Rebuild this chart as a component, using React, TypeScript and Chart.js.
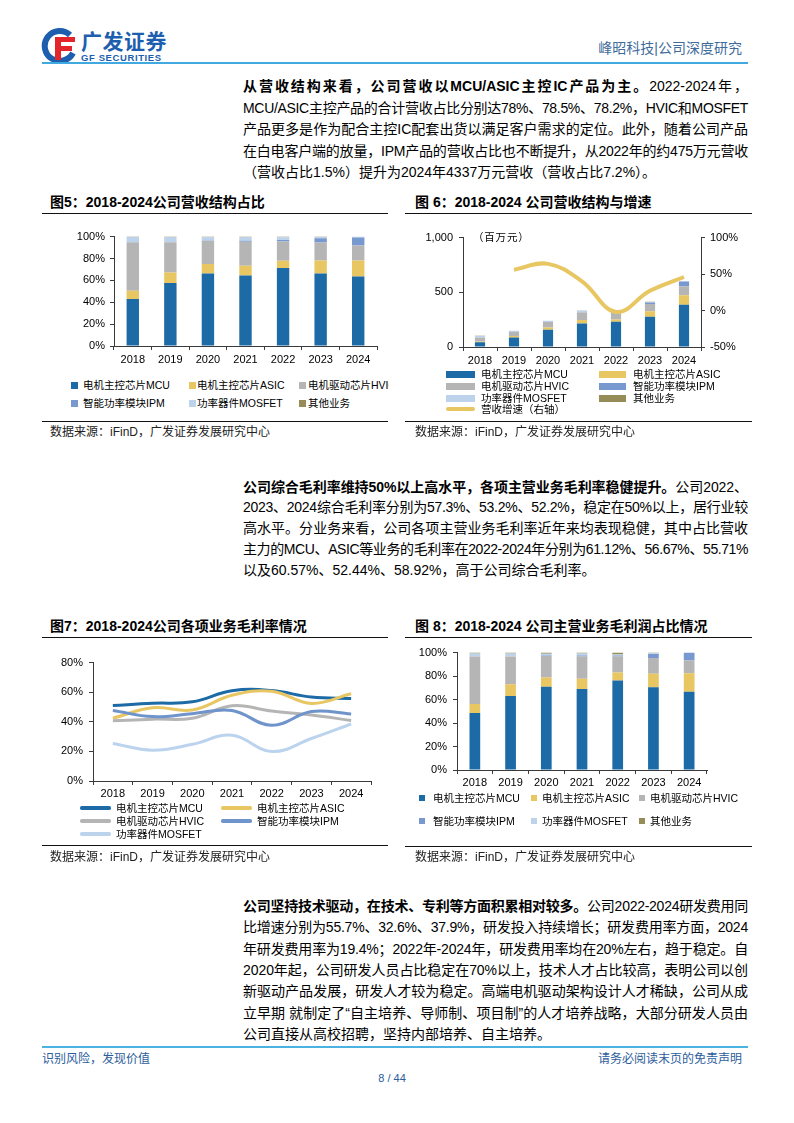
import React, { useEffect, useLayoutEffect, useRef, useState } from 'react';
import { Chart, registerables } from 'chart.js';
Chart.register(...registerables);

// ---------- data ----------
const years = ['2018', '2019', '2020', '2021', '2022', '2023', '2024'];
const seriesNames = ['电机主控芯片MCU', '电机主控芯片ASIC', '电机驱动芯片HVIC', '智能功率模块IPM', '功率器件MOSFET', '其他业务'];
const seriesColors = ['#1c6aa6', '#e8c662', '#b5b5b5', '#7899cf', '#bdd3ec', '#968c58'];

// Fig 5: revenue structure share (%)
const revShareMCU = [43, 57.5, 66.2, 64.4, 71.3, 66.2, 63.5];
const revShareASIC = [7.6, 9.6, 8.7, 9, 6.7, 11.9, 14.7];
const revShareHVIC = [44.3, 27.8, 21.2, 21.8, 17.5, 16.5, 13.7];
const revShareIPM = [0, 0, 0.3, 0.9, 1.5, 3.9, 7.2];
const revShareMOSFET = [4.8, 4.8, 3, 3.6, 2.3, 1.2, 0.9];
const revShareOther = [0.3, 0.3, 0.6, 0.3, 0.7, 0.3, 0];

// Fig 6: revenue (million yuan) and growth (%)
const revMCU = [44, 86, 157, 214, 231, 276, 386];
const revASIC = [6, 15, 21, 32, 21, 50, 86];
const revHVIC = [36, 35, 50, 69, 68, 66, 83];
const revIPM = [0, 0, 0, 3, 5, 14, 43];
const revMOSFET = [15, 12, 12, 14, 8, 6, 3];
const revOther = [1, 1, 1, 1, 2, 1, 1];
const revGrowth = [null, 56, 64, 40, -2, 27, 46];
const revTicksLeft = [0, 500, 1000];
const revTicksRight = [-50, 0, 50, 100];

// Fig 7: gross margin by business (%)
const gmMCU = [51, 52.5, 53.5, 61, 61.1, 56.7, 55.7];
const gmASIC = [42.4, 49.5, 48, 57.9, 60.6, 52.4, 58.9];
const gmHVIC = [40.7, 41.8, 42.4, 50.8, 47.3, 44.6, 40.9];
const gmIPM = [47.7, 43.5, 45.5, 47.7, 37.6, 46.9, 45.3];
const gmMOSFET = [25.4, 20.8, 24.8, 30.9, 19.9, 28.7, 38.5];
const gmColors = ['#1c6aa6', '#e8c662', '#b5b5b5', '#6f93cb', '#bcd3ee'];

// Fig 8: gross profit share (%)
const gpMCU = [48.5, 63, 71, 69.1, 76.3, 70.5, 66.6];
const gpASIC = [7.8, 10, 7.8, 8.6, 6.7, 11.4, 15.9];
const gpHVIC = [40.4, 23.7, 18.4, 19, 13.7, 13.4, 10.8];
const gpIPM = [0, 0, 0.3, 0.8, 0.8, 3.6, 6.7];
const gpMOSFET = [2.5, 2.5, 1.5, 1.7, 0.8, 0.5, 0];
const gpOther = [0.8, 0.8, 1, 0.8, 1.7, 0.6, 0];

// ---------- text ----------
type Part = [string, number];
const P1: Part[][] = [
  [['从营收结构来看，公司营收以MCU/ASIC主控IC产品为主。', 1], ['2022-2024年，', 0]],
  [['MCU/ASIC主控产品的合计营收占比分别达78%、78.5%、78.2%，HVIC和MOSFET', 0]],
  [['产品更多是作为配合主控IC配套出货以满足客户需求的定位。此外，随着公司产品', 0]],
  [['在白电客户端的放量，IPM产品的营收占比也不断提升，从2022年的约475万元营收', 0]],
  [['（营收占比1.5%）提升为2024年4337万元营收（营收占比7.2%）。', 0]],
];
const P2: Part[][] = [
  [['公司综合毛利率维持50%以上高水平，各项主营业务毛利率稳健提升。', 1], ['公司2022、', 0]],
  [['2023、2024综合毛利率分别为57.3%、53.2%、52.2%，稳定在50%以上，居行业较', 0]],
  [['高水平。分业务来看，公司各项主营业务毛利率近年来均表现稳健，其中占比营收', 0]],
  [['主力的MCU、ASIC等业务的毛利率在2022-2024年分别为61.12%、56.67%、55.71%', 0]],
  [['以及60.57%、52.44%、58.92%，高于公司综合毛利率。', 0]],
];
const P3: Part[][] = [
  [['公司坚持技术驱动，在技术、专利等方面积累相对较多。', 1], ['公司2022-2024研发费用同', 0]],
  [['比增速分别为55.7%、32.6%、37.9%，研发投入持续增长；研发费用率方面，2024', 0]],
  [['年研发费用率为19.4%；2022年-2024年，研发费用率均在20%左右，趋于稳定。自', 0]],
  [['2020年起，公司研发人员占比稳定在70%以上，技术人才占比较高，表明公司以创', 0]],
  [['新驱动产品发展，研发人才较为稳定。高端电机驱动架构设计人才稀缺，公司从成', 0]],
  [['立早期 就制定了“自主培养、导师制、项目制”的人才培养战略，大部分研发人员由', 0]],
  [['公司直接从高校招聘，坚持内部培养、自主培养。', 0]],
];

// ---------- helpers ----------
const LATIN = "'Liberation Sans', Arial, sans-serif";
const FONT = "'Liberation Sans', 'Noto Sans CJK SC', sans-serif";
const AXIS = '#3a3a3a';
const tickFont = { family: LATIN, size: 11 };

function xCat(stacked: boolean, padding = 2) {
  return {
    type: 'category',
    stacked,
    offset: true,
    grid: { display: true, drawOnChartArea: false, drawTicks: true, tickLength: 4, color: AXIS, offset: true },
    border: { display: true, color: AXIS },
    ticks: { font: tickFont, color: '#000', padding, maxRotation: 0, autoSkip: false },
    afterFit: (s: any) => { s.height = 24; },
  };
}

function yLin(o: { min: number; max: number; step: number; fmt: (v: number) => string; width: number; pad: number; position?: string; stacked?: boolean }) {
  return {
    type: 'linear',
    position: o.position || 'left',
    stacked: !!o.stacked,
    min: o.min,
    max: o.max,
    ticks: { stepSize: o.step, callback: (v: any) => o.fmt(Number(v)), font: tickFont, color: '#000', padding: o.pad },
    grid: { display: true, drawOnChartArea: false, drawTicks: true, tickLength: 4, color: AXIS },
    border: { display: true, color: AXIS },
    afterFit: (s: any) => { s.width = o.width; },
  };
}

const pct = (v: number) => `${v}%`;

function barSets(arrs: number[][], barPct: number) {
  return arrs.map((d, i) => ({
    type: 'bar',
    label: seriesNames[i],
    data: d,
    backgroundColor: seriesColors[i],
    borderWidth: 0,
    stack: 's',
    barPercentage: barPct,
    categoryPercentage: 1,
    order: 1,
  }));
}

function ChartBox(props: { left: number; top: number; width: number; height: number; config: () => any }) {
  const ref = useRef<HTMLCanvasElement>(null);
  useEffect(() => {
    const chart = new Chart(ref.current as HTMLCanvasElement, props.config());
    return () => chart.destroy();
  }, []);
  return (
    <div style={{ position: 'absolute', left: props.left, top: props.top, width: props.width, height: props.height }}>
      <canvas ref={ref} width={props.width} height={props.height} style={{ width: props.width, height: props.height, display: 'block' }} />
    </div>
  );
}

function TextLine(props: { parts: Part[]; last: boolean; left: number; top: number; width: number; lh: number; size: number }) {
  const mref = useRef<HTMLSpanElement>(null);
  const [ls, setLs] = useState(0);
  useLayoutEffect(() => {
    const el = mref.current;
    if (!el) return;
    const w = el.getBoundingClientRect().width;
    const n = props.parts.reduce((a, p) => a + Array.from(p[0]).length, 0);
    if (w > props.width) setLs((props.width - w) / n - 0.02);
  }, []);
  const content = props.parts.map((p, i) => (
    <span key={i} style={{ fontWeight: p[1] ? 700 : 400 }}>{p[0]}</span>
  ));
  return (
    <>
      <span ref={mref} style={{ position: 'absolute', visibility: 'hidden', whiteSpace: 'nowrap', left: 0, top: 0, fontSize: props.size }}>{content}</span>
      <div
        style={{
          position: 'absolute', left: props.left, top: props.top, width: props.width, height: props.lh,
          lineHeight: props.lh + 'px', fontSize: props.size, textAlign: 'justify',
          textAlignLast: props.last ? 'left' : 'justify', whiteSpace: ls < 0 ? 'nowrap' : 'normal',
          letterSpacing: ls ? ls + 'px' : undefined, color: '#000',
        }}
      >{content}</div>
    </>
  );
}

function Para(props: { lines: Part[][]; y0: number; lh: number }) {
  return (
    <>
      {props.lines.map((ln, i) => (
        <TextLine key={i} parts={ln} last={i === props.lines.length - 1} left={243} top={props.y0 + i * props.lh - props.lh / 2} width={505} lh={props.lh} size={14} />
      ))}
    </>
  );
}

function Abs(props: { x: number; y: number; size: number; children: any; bold?: boolean; color?: string; ls?: number; align?: string; w?: number }) {
  const lh = props.size + 4;
  return (
    <div style={{
      position: 'absolute', left: props.x, top: props.y - lh / 2, lineHeight: lh + 'px', fontSize: props.size,
      fontWeight: props.bold ? 700 : 400, color: props.color || '#000', whiteSpace: 'nowrap',
      letterSpacing: props.ls ? props.ls + 'px' : undefined, width: props.w, textAlign: (props.align as any) || 'left',
    }}>{props.children}</div>
  );
}

function Rule(props: { x1: number; x2: number; y: number; color?: string; h?: number }) {
  return <div style={{ position: 'absolute', left: props.x1, top: props.y - (props.h || 1) / 2, width: props.x2 - props.x1, height: props.h || 1, background: props.color || '#111' }} />;
}

type Leg = { x: number; y: number; color: string; label: string; kind: 'sq' | 'rect' | 'line'; w?: number; h?: number; tx: number };

function Legend(props: { items: Leg[]; clipRight?: number }) {
  return (
    <>
      {props.items.map((it, i) => {
        const w = it.w || 7;
        const h = it.h || 7;
        return (
          <React.Fragment key={i}>
            <div style={{ position: 'absolute', left: it.x, top: it.y - h / 2, width: w, height: h, background: it.color, borderRadius: it.kind === 'line' ? h / 2 : 0 }} />
            <div style={{ position: 'absolute', left: it.tx, top: it.y - 7, lineHeight: '14px', fontSize: 10.5, whiteSpace: 'nowrap', color: '#000', width: props.clipRight ? props.clipRight - it.tx : undefined, overflow: 'hidden' }}>{it.label}</div>
          </React.Fragment>
        );
      })}
    </>
  );
}

// ---------- charts ----------
const fig5Config = () => ({
  type: 'bar',
  data: { labels: years, datasets: barSets([revShareMCU, revShareASIC, revShareHVIC, revShareIPM, revShareMOSFET, revShareOther], 0.33) },
  options: {
    responsive: false, animation: false, devicePixelRatio: 1,
    layout: { padding: { top: 10, right: 13, left: 0, bottom: 0 } },
    plugins: { legend: { display: false }, tooltip: { enabled: false } },
    scales: {
      x: xCat(true, 3),
      y: yLin({ min: 0, max: 100, step: 20, fmt: pct, width: 74, pad: 5, stacked: true }),
    },
  },
});

const fig6Config = () => ({
  type: 'bar',
  data: {
    labels: years,
    datasets: [
      {
        type: 'line', label: '营收增速（右轴）', data: revGrowth, yAxisID: 'y1', borderColor: '#e8c662', backgroundColor: '#e8c662',
        borderWidth: 4, pointRadius: 0, tension: 0.4, order: 0, spanGaps: false,
      },
      ...barSets([revMCU, revASIC, revHVIC, revIPM, revMOSFET, revOther], 0.3).map((d) => ({ ...d, yAxisID: 'y' })),
    ],
  },
  options: {
    responsive: false, animation: false, devicePixelRatio: 1,
    layout: { padding: { top: 10, right: 0, left: 0, bottom: 0 } },
    plugins: { legend: { display: false }, tooltip: { enabled: false } },
    scales: {
      x: xCat(true, 3),
      y: {
        ...yLin({ min: revTicksLeft[0], max: revTicksLeft[revTicksLeft.length - 1], step: 500, fmt: (v) => v.toLocaleString('en-US'), width: 58, pad: 6, stacked: true }),
      },
      y1: yLin({ min: revTicksRight[0], max: revTicksRight[revTicksRight.length - 1], step: 50, fmt: pct, width: 54, pad: 5, position: 'right' }),
    },
  },
});

const fig7Config = () => ({
  type: 'line',
  data: {
    labels: years,
    datasets: [gmMCU, gmASIC, gmHVIC, gmIPM, gmMOSFET].map((d, i) => ({
      label: seriesNames[i], data: d, borderColor: gmColors[i], backgroundColor: gmColors[i],
      borderWidth: 3, pointRadius: 0, tension: 0.4, fill: false, order: 5 - i,
    })),
  },
  options: {
    responsive: false, animation: false, devicePixelRatio: 1,
    layout: { padding: { top: 10, right: 14, left: 0, bottom: 0 } },
    plugins: { legend: { display: false }, tooltip: { enabled: false } },
    scales: {
      x: xCat(false, 2),
      y: yLin({ min: 0, max: 80, step: 20, fmt: pct, width: 53, pad: 6 }),
    },
  },
});

const fig8Config = () => ({
  type: 'bar',
  data: { labels: years, datasets: barSets([gpMCU, gpASIC, gpHVIC, gpIPM, gpMOSFET, gpOther], 0.3) },
  options: {
    responsive: false, animation: false, devicePixelRatio: 1,
    layout: { padding: { top: 10, right: 43, left: 0, bottom: 0 } },
    plugins: { legend: { display: false }, tooltip: { enabled: false } },
    scales: {
      x: xCat(true, 2),
      y: yLin({ min: 0, max: 100, step: 20, fmt: pct, width: 52, pad: 6, stacked: true }),
    },
  },
});

// ---------- page ----------
const SRC = '数据来源：iFinD，广发证券发展研究中心';

function Logo() {
  return (
    <>
      <svg style={{ position: 'absolute', left: 40, top: 27 }} width={40} height={38} viewBox="0 0 40 38">
        <path d="M30 8 A15 15 0 1 0 33 26" fill="none" stroke="#1d5fae" strokeWidth={6} />
        <path d="M15 10 H35 V15 H21 V19 H32 V24 H21 V33 H15 Z" fill="#e2262b" />
      </svg>
      <Abs x={81} y={41} size={21} bold color="#1d5fae" ls={0.5}>广发证券</Abs>
      <Abs x={81} y={58} size={9.5} bold color="#1d5fae" ls={0.6}>GF SECURITIES</Abs>
    </>
  );
}

export default function App() {
  return (
    <div style={{ position: 'absolute', left: 0, top: 0, width: 794, height: 1123, background: '#fff', overflow: 'hidden', fontFamily: FONT, color: '#000' }}>
      <Logo />
      <Abs x={542} y={48} size={14} color="#3f6b9a" w={200} align="right">峰昭科技|公司深度研究</Abs>
      <Rule x1={42} x2={748} y={63} color="#3fa9e0" h={2} />

      <Para lines={P1} y0={87} lh={21.4} />

      {/* Figure 5 */}
      <Abs x={50} y={202} size={14} bold>图5：2018-2024公司营收结构占比</Abs>
      <Rule x1={42} x2={388} y={213} />
      <ChartBox left={40} top={225} width={350} height={145} config={fig5Config} />
      <Legend clipRight={389} items={[
        { x: 71, y: 385, color: seriesColors[0], label: seriesNames[0], kind: 'sq', tx: 83 },
        { x: 189, y: 385, color: seriesColors[1], label: seriesNames[1], kind: 'sq', tx: 197 },
        { x: 299, y: 385, color: seriesColors[2], label: seriesNames[2], kind: 'sq', tx: 308 },
        { x: 71, y: 403, color: seriesColors[3], label: seriesNames[3], kind: 'sq', tx: 83 },
        { x: 189, y: 403, color: seriesColors[4], label: seriesNames[4], kind: 'sq', tx: 197 },
        { x: 299, y: 403, color: seriesColors[5], label: seriesNames[5], kind: 'sq', tx: 308 },
      ]} />
      <Rule x1={42} x2={388} y={421} />
      <Abs x={50} y={432} size={12} color="#222">{SRC}</Abs>

      {/* Figure 6 */}
      <Abs x={415} y={202} size={14} bold>图 6：2018-2024 公司营收结构与增速</Abs>
      <Rule x1={405} x2={752} y={213} />
      <ChartBox left={405} top={225} width={350} height={146} config={fig6Config} />
      <Abs x={473} y={237} size={10.5} ls={0.8}>（百万元）</Abs>
      <Legend items={[
        { x: 446, y: 374, color: seriesColors[0], label: seriesNames[0], kind: 'rect', w: 29, h: 7, tx: 481 },
        { x: 599, y: 374, color: seriesColors[1], label: seriesNames[1], kind: 'rect', w: 27, h: 7, tx: 633 },
        { x: 446, y: 386, color: seriesColors[2], label: seriesNames[2], kind: 'rect', w: 29, h: 7, tx: 481 },
        { x: 599, y: 386, color: seriesColors[3], label: seriesNames[3], kind: 'rect', w: 27, h: 7, tx: 633 },
        { x: 446, y: 398, color: seriesColors[4], label: seriesNames[4], kind: 'rect', w: 29, h: 7, tx: 481 },
        { x: 599, y: 398, color: seriesColors[5], label: seriesNames[5], kind: 'rect', w: 27, h: 7, tx: 633 },
        { x: 446, y: 409, color: '#e8c662', label: '营收增速（右轴）', kind: 'line', w: 29, h: 4, tx: 481 },
      ]} />
      <Rule x1={405} x2={752} y={421} />
      <Abs x={415} y={432} size={12} color="#222">{SRC}</Abs>

      <Para lines={P2} y0={487} lh={20.8} />

      {/* Figure 7 */}
      <Abs x={50} y={626} size={14} bold>图7：2018-2024公司各项业务毛利率情况</Abs>
      <Rule x1={42} x2={388} y={637} />
      <ChartBox left={40} top={650} width={345} height={155} config={fig7Config} />
      <Legend items={[
        { x: 80, y: 808, color: gmColors[0], label: seriesNames[0], kind: 'line', w: 31, h: 3.5, tx: 116 },
        { x: 221, y: 808, color: gmColors[1], label: seriesNames[1], kind: 'line', w: 31, h: 3.5, tx: 257 },
        { x: 80, y: 821, color: gmColors[2], label: seriesNames[2], kind: 'line', w: 31, h: 3.5, tx: 116 },
        { x: 221, y: 821, color: gmColors[3], label: seriesNames[3], kind: 'line', w: 31, h: 3.5, tx: 257 },
        { x: 80, y: 834, color: gmColors[4], label: seriesNames[4], kind: 'line', w: 31, h: 3.5, tx: 116 },
      ]} />
      <Rule x1={42} x2={388} y={845} />
      <Abs x={50} y={857} size={12} color="#222">{SRC}</Abs>

      {/* Figure 8 */}
      <Abs x={415} y={626} size={14} bold>图 8：2018-2024 公司主营业务毛利润占比情况</Abs>
      <Rule x1={405} x2={752} y={637} />
      <ChartBox left={405} top={640} width={345} height={154} config={fig8Config} />
      <Legend items={[
        { x: 419, y: 798, color: seriesColors[0], label: seriesNames[0], kind: 'sq', w: 6, h: 6, tx: 433 },
        { x: 531, y: 798, color: seriesColors[1], label: seriesNames[1], kind: 'sq', w: 6, h: 6, tx: 542 },
        { x: 639, y: 798, color: seriesColors[2], label: seriesNames[2], kind: 'sq', w: 6, h: 6, tx: 650 },
        { x: 419, y: 821, color: seriesColors[3], label: seriesNames[3], kind: 'sq', w: 6, h: 6, tx: 433 },
        { x: 531, y: 821, color: seriesColors[4], label: seriesNames[4], kind: 'sq', w: 6, h: 6, tx: 542 },
        { x: 639, y: 821, color: seriesColors[5], label: seriesNames[5], kind: 'sq', w: 6, h: 6, tx: 650 },
      ]} />
      <Rule x1={405} x2={752} y={846} />
      <Abs x={415} y={857} size={12} color="#222">{SRC}</Abs>

      <Para lines={P3} y0={906.5} lh={21.4} />

      <Rule x1={42} x2={748} y={1047} color="#4ab3e2" h={2} />
      <Abs x={42} y={1059} size={12} color="#2b5c9b">识别风险，发现价值</Abs>
      <Abs x={542} y={1059} size={12} color="#2b5c9b" w={200} align="right">请务必阅读末页的免责声明</Abs>
      <Abs x={342} y={1078} size={11} color="#2b5c9b" w={100} align="center">8 / 44</Abs>
    </div>
  );
}
